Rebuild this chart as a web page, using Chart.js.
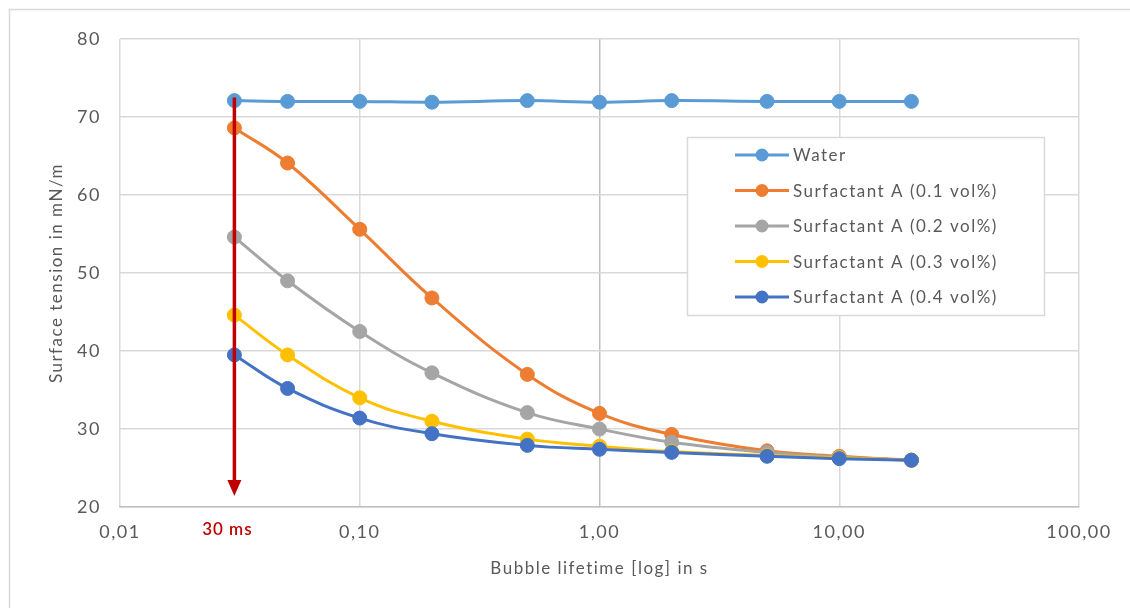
<!DOCTYPE html>
<html>
<head>
<meta charset="utf-8">
<script src="https://cdn.jsdelivr.net/npm/chart.js@4/dist/chart.umd.min.js"></script>
<style>
  body { margin: 0; background: #fff; }
  #wrap { width: 1130px; height: 608px; }
</style>
</head>
<body>
<div id="wrap"><canvas id="chartTension" width="1130" height="608"></canvas></div>
<script>
// bubble lifetime in s
const lifetimes = [0.03, 0.05, 0.1, 0.2, 0.5, 1, 2, 5, 10, 20];

const seriesNames = [
  'Water',
  'Surfactant A (0.1 vol%)',
  'Surfactant A (0.2 vol%)',
  'Surfactant A (0.3 vol%)',
  'Surfactant A (0.4 vol%)'
];
const seriesColors = ['#5B9BD5', '#ED7D31', '#A5A5A5', '#FFC000', '#4472C4'];

const water = [72.1, 72.0, 72.0, 71.9, 72.1, 71.9, 72.1, 72.0, 72.0, 72.0];
const surfA01 = [68.6, 64.1, 55.6, 46.8, 37.0, 32.0, 29.3, 27.2, 26.5, 26.0];
const surfA02 = [54.6, 49.0, 42.5, 37.2, 32.1, 30.0, 28.3, 27.0, 26.4, 26.0];
const surfA03 = [44.6, 39.5, 34.0, 31.0, 28.7, 27.8, 27.1, 26.6, 26.3, 26.0];
const surfA04 = [39.5, 35.2, 31.4, 29.4, 27.9, 27.4, 27.0, 26.5, 26.2, 26.0];

const xTicks = [0.01, 0.1, 1, 10, 100];
const xTickLabels = ['0,01', '0,10', '1,00', '10,00', '100,00'];
const yTicks = [20, 30, 40, 50, 60, 70, 80];

// 30 ms marker
const markerX = 0.03;
const markerFrom = 72.5;
const markerTo = 21.4;
const markerLabel = '30 ms';

const FONT = 'Lato, "Noto Sans", sans-serif';
const TEXT = '#595959';
const SPACING = '1.5px';

const allSeries = [water, surfA01, surfA02, surfA03, surfA04];

const datasets = allSeries.map((vals, i) => ({
  label: seriesNames[i],
  data: vals.map((v, k) => ({ x: lifetimes[k], y: v })),
  borderColor: seriesColors[i],
  backgroundColor: seriesColors[i],
  borderWidth: 3,
  pointRadius: 7,
  pointBorderWidth: 1,
  pointBorderColor: seriesColors[i],
  tension: 0.4,
  order: allSeries.length - i
}));

const frameBackground = {
  id: 'frameBackground',
  beforeDraw(chart) {
    const c = chart.ctx;
    c.letterSpacing = SPACING;
    c.save();
    c.fillStyle = '#fff';
    c.fillRect(0, 0, chart.width, chart.height);
    c.strokeStyle = '#d9d9d9';
    c.lineWidth = 1.5;
    c.strokeRect(9.5, 9.5, chart.width + 20, chart.height + 20);
    c.restore();
  }
};

const arrowMarker = {
  id: 'arrowMarker',
  afterDatasetsDraw(chart) {
    const c = chart.ctx;
    const xs = chart.scales.x, ys = chart.scales.y;
    const x = xs.getPixelForValue(markerX);
    const y1 = ys.getPixelForValue(markerFrom);
    const y2 = ys.getPixelForValue(markerTo);
    c.save();
    c.strokeStyle = '#C00000';
    c.fillStyle = '#C00000';
    c.lineWidth = 3.5;
    c.beginPath();
    c.moveTo(x, y1);
    c.lineTo(x, y2 - 14);
    c.stroke();
    c.beginPath();
    c.moveTo(x - 7, y2 - 16);
    c.lineTo(x + 7, y2 - 16);
    c.lineTo(x, y2);
    c.closePath();
    c.fill();
    c.letterSpacing = '1px';
    c.font = '600 17px ' + FONT;
    c.textAlign = 'center';
    c.textBaseline = 'middle';
    c.fillText(markerLabel, x - 7, ys.bottom + 23);
    c.restore();
  }
};

const boxLegend = {
  id: 'boxLegend',
  afterDraw(chart) {
    const c = chart.ctx;
    const left = 687, top = 137, w = 357, h = 178;
    c.save();
    c.fillStyle = '#fff';
    c.fillRect(left, top, w, h);
    c.strokeStyle = '#d9d9d9';
    c.lineWidth = 1.5;
    c.strokeRect(left + 0.5, top + 0.5, w, h);
    c.letterSpacing = SPACING;
    c.font = '17px ' + FONT;
    c.textBaseline = 'middle';
    c.textAlign = 'left';
    seriesNames.forEach((name, i) => {
      const y = 155 + i * 35.5;
      c.strokeStyle = seriesColors[i];
      c.fillStyle = seriesColors[i];
      c.lineWidth = 3;
      c.beginPath();
      c.moveTo(735, y);
      c.lineTo(789, y);
      c.stroke();
      c.beginPath();
      c.arc(762, y, 6.5, 0, Math.PI * 2);
      c.fill();
      c.fillStyle = TEXT;
      c.fillText(name, 793, y + 1);
    });
    c.restore();
  }
};

new Chart(document.getElementById('chartTension'), {
  type: 'line',
  data: { datasets },
  plugins: [frameBackground, arrowMarker, boxLegend],
  options: {
    responsive: false,
    animation: false,
    layout: { padding: { top: 39, right: 51, bottom: 0, left: 0 } },
    plugins: { legend: { display: false }, tooltip: { enabled: false } },
    scales: {
      x: {
        type: 'logarithmic',
        min: 0.01,
        max: 100,
        afterBuildTicks: s => { s.ticks = xTicks.map(v => ({ value: v })); },
        afterFit: s => { s.height = 101; },
        ticks: {
          color: TEXT,
          font: { family: FONT, size: 18 },
          padding: 14,
          maxRotation: 0,
          autoSkip: false,
          callback: (v) => xTickLabels[xTicks.indexOf(v)]
        },
        grid: {
          drawTicks: false,
          color: ctx => (ctx.tick && ctx.tick.value === 1 ? '#bfbfbf' : '#d9d9d9'),
          lineWidth: 1.5
        },
        border: { color: '#bfbfbf', width: 1.5 },
        title: {
          display: true,
          text: 'Bubble lifetime [log] in s',
          color: TEXT,
          font: { family: FONT, size: 17, lineHeight: 1.2 },
          padding: { top: 0, bottom: 29 }
        }
      },
      y: {
        min: 20,
        max: 80,
        afterBuildTicks: s => { s.ticks = yTicks.map(v => ({ value: v })); },
        afterFit: s => { s.width = 120; },
        ticks: {
          color: TEXT,
          font: { family: FONT, size: 18 },
          padding: 19
        },
        grid: { drawTicks: false, color: '#d9d9d9', lineWidth: 1.5 },
        border: { display: false },
        title: {
          display: true,
          text: 'Surface tension in mN/m',
          color: TEXT,
          font: { family: FONT, size: 17, lineHeight: 1.2 },
          padding: { top: 46, bottom: 0 }
        }
      }
    }
  }
});
</script>
</body>
</html>
